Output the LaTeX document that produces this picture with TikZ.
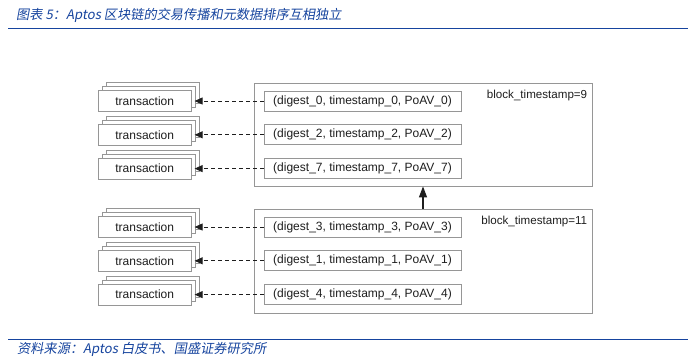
\documentclass[tikz,border=0pt]{standalone}
\usepackage{fontspec}
\setmainfont{Liberation Sans}
\newfontfamily\cjk[FakeSlant=0.18]{Noto Sans CJK SC}
\usepackage{xcolor}
\definecolor{reportblue}{RGB}{22, 68, 158}
\definecolor{boxgray}{RGB}{150, 150, 150}
\definecolor{inkgray}{RGB}{30, 30, 30}
\usetikzlibrary{arrows.meta, positioning, shadows}

\begin{document}
\begin{tikzpicture}[
    x=1pt, y=1pt,
    node distance=13pt and 72pt,
    caption/.style={anchor=west, inner sep=0pt, text=reportblue, font=\cjk\fontsize{13.2}{15}\selectfont},
    rule/.style={draw=reportblue, line width=1pt},
    block/.style={rectangle, draw=boxgray, line width=0.8pt, minimum width=338pt, inner sep=0pt},
    entry/.style={rectangle, draw=boxgray, line width=0.8pt, fill=white, minimum width=197pt, minimum height=20pt, inner sep=0pt, text=inkgray, font=\fontsize{12}{14}\selectfont},
    txn/.style={rectangle, draw=boxgray, line width=0.8pt, fill=white, minimum width=93pt, minimum height=21pt, inner sep=0pt, text=inkgray, font=\fontsize{12}{14}\selectfont,
        double copy shadow={shadow xshift=4pt, shadow yshift=4pt, draw=boxgray, fill=white}},
    stamp/.style={anchor=north east, inner sep=0pt, text=inkgray, font=\fontsize{11.6}{13}\selectfont},
    ref/.style={inkgray, line width=0.9pt, dash pattern=on 4pt off 3pt, -{Triangle[length=8pt, width=7pt]}},
    order/.style={inkgray, line width=1.2pt, -{Triangle[length=11pt, width=8pt]}}
]
\useasboundingbox (0,0) rectangle (692,-360);

% Header and footer
\node (title) [caption] at (16,-15) {图表 5：Aptos 区块链的交易传播和元数据排序互相独立};
\coordinate (h1) at (8,-28);
\coordinate (h2) at (688,-28);
\draw [rule] (h1) -- (h2);
\coordinate (f1) at (8,-339);
\coordinate (f2) at (688,-339);
\draw [rule] (f1) -- (f2);
\node (source) [caption] at (17,-349) {资料来源：Aptos 白皮书、国盛证券研究所};

% Blocks
\node (blk9) [block, minimum height=103pt] at (423,-134.5) {};
\node (blk11) [block, minimum height=104pt] at (423,-261) {};
\node (ts9) [stamp] at ([xshift=-5pt, yshift=-7pt]blk9.north east) {block\_timestamp=9};
\node (ts11) [stamp] at ([xshift=-5pt, yshift=-7pt]blk11.north east) {block\_timestamp=11};

% Metadata entries
\node (d0) [entry] at (362.5,-101) {(digest\_0, timestamp\_0, PoAV\_0)};
\node (d2) [entry, below=of d0] {(digest\_2, timestamp\_2, PoAV\_2)};
\node (d7) [entry, below=of d2] {(digest\_7, timestamp\_7, PoAV\_7)};
\node (d3) [entry] at (362.5,-227) {(digest\_3, timestamp\_3, PoAV\_3)};
\node (d1) [entry, below=of d3] {(digest\_1, timestamp\_1, PoAV\_1)};
\node (d4) [entry, below=of d1] {(digest\_4, timestamp\_4, PoAV\_4)};

% Transactions
\node (t0) [txn, left=of d0] {transaction};
\node (t2) [txn, left=of d2] {transaction};
\node (t7) [txn, left=of d7] {transaction};
\node (t3) [txn, left=of d3] {transaction};
\node (t1) [txn, left=of d1] {transaction};
\node (t4) [txn, left=of d4] {transaction};

% Arrows
\foreach \d/\t in {d0/t0, d2/t2, d7/t7, d3/t3, d1/t1, d4/t4}
    \draw [ref] (\d.west) -- ([xshift=3pt]\t.east);
\draw [order] (blk11) -- (blk9);

\end{tikzpicture}
\end{document}
